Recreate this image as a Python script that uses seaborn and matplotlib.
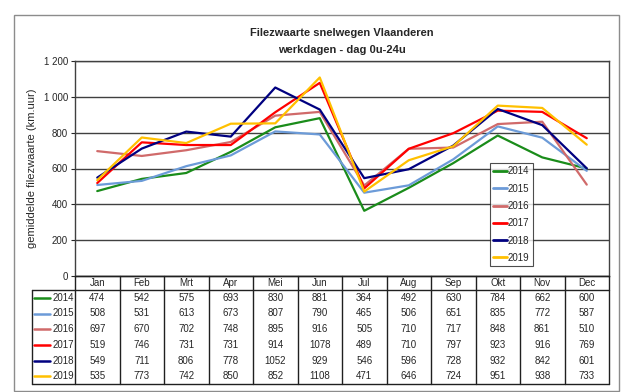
import pandas as pd
import matplotlib
matplotlib.use("Agg")
import matplotlib.pyplot as plt
import seaborn as sns
from matplotlib.patches import Rectangle
from matplotlib.lines import Line2D

# Data
months = ["Jan", "Feb", "Mrt", "Apr", "Mei", "Jun", "Jul", "Aug", "Sep", "Okt", "Nov", "Dec"]
years = ["2014", "2015", "2016", "2017", "2018", "2019"]
v2014 = [474, 542, 575, 693, 830, 881, 364, 492, 630, 784, 662, 600]
v2015 = [508, 531, 613, 673, 807, 790, 465, 506, 651, 835, 772, 587]
v2016 = [697, 670, 702, 748, 895, 916, 505, 710, 717, 848, 861, 510]
v2017 = [519, 746, 731, 731, 914, 1078, 489, 710, 797, 923, 916, 769]
v2018 = [549, 711, 806, 778, 1052, 929, 546, 596, 728, 932, 842, 601]
v2019 = [535, 773, 742, 850, 852, 1108, 471, 646, 724, 951, 938, 733]
series = [v2014, v2015, v2016, v2017, v2018, v2019]
colors = ["#1a8c1a", "#6c9bd8", "#d06a6a", "#ff0000", "#000080", "#ffc000"]

rows = []
for y, vals in zip(years, series):
    for i, v in enumerate(vals):
        rows.append({"maand": i, "jaar": y, "waarde": v})
df = pd.DataFrame(rows)

sns.set_style("white")
plt.rcParams["font.family"] = ["Liberation Sans", "DejaVu Sans"]

W, H = 632, 392
fig = plt.figure(figsize=(W / 100, H / 100), dpi=100)

def fx(px):
    return px / W

def fy(py):
    return 1 - py / H

# outer frame
fig.patches.append(Rectangle((fx(14), fy(391)), fx(619) - fx(14), fy(15) - fy(391),
                             transform=fig.transFigure, fill=False, edgecolor="#8c8c8c", lw=1.0))

x0, x1 = 75, 609
ytop, ybot = 61, 276
ax = fig.add_axes([fx(x0), fy(ybot), fx(x1) - fx(x0), fy(ytop) - fy(ybot)])

sns.lineplot(data=df, x="maand", y="waarde", hue="jaar", palette=colors, lw=1.6, ax=ax, legend=False)

ax.set_xlim(-0.5, 11.5)
ax.set_ylim(0, 1200)
ax.set_yticks(range(0, 1201, 200))
ax.set_yticklabels([f"{t:,}".replace(",", " ") for t in range(0, 1201, 200)], fontsize=7)
ax.set_xticks([])
ax.set_xlabel("")
ax.set_ylabel("gemiddelde filezwaarte (km.uur)", fontsize=8, labelpad=5)
ax.grid(axis="y", color="#404040", lw=1.0)
ax.tick_params(axis="y", length=3, width=0.8, direction="out", pad=2, left=True)
for s in ax.spines.values():
    s.set_color("#404040")
    s.set_linewidth(1.0)

fig.text(fx(342), fy(33), "Filezwaarte snelwegen Vlaanderen", ha="center", va="center", fontsize=8, fontweight="bold")
fig.text(fx(342), fy(50), "werkdagen - dag 0u-24u", ha="center", va="center", fontsize=8, fontweight="bold")

# legend
handles = [Line2D([0], [0], color=c, lw=2) for c in colors]
leg = ax.legend(handles, years, loc="upper left",
                bbox_to_anchor=((490 - x0) / (x1 - x0), 1 - (163 - ytop) / (ybot - ytop)),
                fontsize=7, frameon=True, fancybox=False, handlelength=1.4, handletextpad=0.1,
                labelspacing=0.75, borderpad=0.35, borderaxespad=0)
leg.get_frame().set_edgecolor("#202020")
leg.get_frame().set_linewidth(0.8)

# data table
tx0, ty0, ty_hdr, ty1 = 32, 276, 290, 384
tab = fig.add_axes([0, 0, 1, 1], facecolor="none")
tab.set_xlim(0, W)
tab.set_ylim(H, 0)
tab.axis("off")
colw = (x1 - x0) / 12
rowh = (ty1 - ty_hdr) / 6
lc = "#202020"
tab.plot([x0, x1], [ty0, ty0], color=lc, lw=1)
tab.plot([tx0, x1], [ty_hdr, ty_hdr], color=lc, lw=1)
tab.plot([tx0, x1], [ty1, ty1], color=lc, lw=1)
tab.plot([tx0, tx0], [ty_hdr, ty1], color=lc, lw=1)
for j in range(13):
    xx = x0 + j * colw
    tab.plot([xx, xx], [ty0, ty1], color=lc, lw=1)
for j, m in enumerate(months):
    tab.text(x0 + (j + 0.5) * colw, (ty0 + ty_hdr) / 2, m, ha="center", va="center", fontsize=7)
for i, (y, vals, c) in enumerate(zip(years, series, colors)):
    cy = ty_hdr + (i + 0.5) * rowh
    tab.plot([tx0 + 2, tx0 + 18], [cy, cy], color=c, lw=1.8)
    tab.text(x0 - 1, cy, y, ha="right", va="center", fontsize=7)
    for j, v in enumerate(vals):
        tab.text(x0 + (j + 0.5) * colw, cy, str(v), ha="center", va="center", fontsize=7)

fig.savefig("out.png", dpi=100)
